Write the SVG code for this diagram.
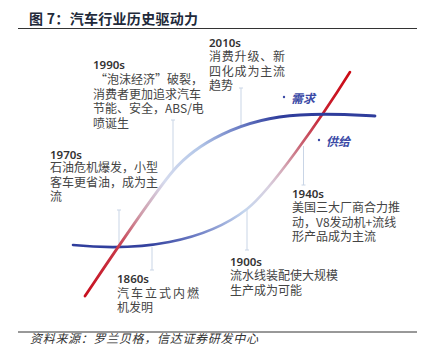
<svg xmlns="http://www.w3.org/2000/svg" width="426" height="358" viewBox="0 0 426 358">
<style>
.t{font-family:"Noto Sans CJK SC","Noto Sans",sans-serif;font-size:12px;fill:#444;}
.y{font-family:"Noto Sans","Noto Sans CJK SC",sans-serif;font-size:11.5px;font-weight:600;fill:#333;}
.conn{stroke:#c9d5e6;stroke-width:1;fill:none;}
.lbl{font-family:"Noto Sans CJK SC",sans-serif;font-size:12px;font-weight:700;font-style:italic;fill:#3b4aa6;}
.rule{stroke:#333;stroke-width:1;}
</style>
<defs>
<linearGradient id="gA" gradientUnits="userSpaceOnUse" x1="85" y1="296" x2="300" y2="115">
<stop offset="0" stop-color="#c80f1e"/>
<stop offset="0.2" stop-color="#c83848"/>
<stop offset="0.335" stop-color="#cf9aa8"/>
<stop offset="0.48" stop-color="#d5dbee"/>
<stop offset="0.65" stop-color="#b4c7e8"/>
<stop offset="0.81" stop-color="#6a7cc4"/>
<stop offset="0.94" stop-color="#2f3d9c"/>
<stop offset="1" stop-color="#2f3d9c"/>
</linearGradient>
<linearGradient id="gB" gradientUnits="userSpaceOnUse" x1="73" y1="245" x2="350" y2="72">
<stop offset="0" stop-color="#2f3d9c"/>
<stop offset="0.2" stop-color="#34429f"/>
<stop offset="0.34" stop-color="#7080c6"/>
<stop offset="0.5" stop-color="#c5d6ee"/>
<stop offset="0.6" stop-color="#d8d0e0"/>
<stop offset="0.67" stop-color="#d4a8b6"/>
<stop offset="0.76" stop-color="#c86070"/>
<stop offset="0.86" stop-color="#c82030"/>
<stop offset="1" stop-color="#cc0a14"/>
</linearGradient>
</defs>
<rect width="426" height="358" fill="#fff"/>
<g id="title">
<text x="29" y="24" style="font-family:'Noto Sans CJK SC',sans-serif;font-size:14px;font-weight:700;fill:#222a3a;letter-spacing:0.3px">图 7：汽车行业历史驱动力</text>
<line class="rule" x1="18" y1="28.5" x2="417" y2="28.5"/>
</g>
<g id="connectors">
<path class="conn" d="M173,120V171M171,120H175"/>
<path class="conn" d="M241,88V127M239,88H243"/>
<path class="conn" d="M119,210V247M117,210H121"/>
<path class="conn" d="M152,247V270M150,270H154"/>
<path class="conn" d="M303.5,146V185M301.5,185H305.5"/>
<path class="conn" d="M247,209V250M245,250H249"/>
</g>
<g id="curves">
<path id="supply" d="M73,245 C140,252 205,242 247,209 C270,191 320,120 350,72" fill="none" stroke="url(#gB)" stroke-width="2.6" stroke-linecap="round"/>
<path id="demand" d="M85,296 C108,262 151,197 173,171 C195,145 240,118 300,115 C330,113 355,115 375,116" fill="none" stroke="url(#gA)" stroke-width="2.8" stroke-linecap="round"/>
</g>
<g id="legend-demand">
<circle cx="284" cy="97" r="1.2" fill="#3b4aa6"/>
<text class="lbl" x="291" y="103">需求</text>
</g>
<g id="legend-supply">
<circle cx="319" cy="140" r="1.2" fill="#3b4aa6"/>
<text class="lbl" x="326" y="146">供给</text>
</g>
<g id="n2010s">
<text class="t"><tspan class="y" x="209" y="47">2010s</tspan><tspan x="209" y="61" style="letter-spacing:0.8px">消费升级、新</tspan><tspan x="209" y="75.5" style="letter-spacing:0.8px">四化成为主流</tspan><tspan x="209" y="90">趋势</tspan></text>
</g>
<g id="n1990s">
<text class="t"><tspan class="y" x="93" y="69">1990s</tspan><tspan x="95 107 119 131 143 155 167 179 191" y="84">“泡沫经济”破裂，</tspan><tspan x="93" y="98.5">消费者更加追求汽车</tspan><tspan x="93" y="113">节能、安全，ABS/电</tspan><tspan x="93" y="127.5">喷诞生</tspan></text>
</g>
<g id="n1970s">
<text class="t"><tspan class="y" x="50" y="159">1970s</tspan><tspan x="50" y="172">石油危机爆发，小型</tspan><tspan x="50" y="186.5">客车更省油，成为主</tspan><tspan x="50" y="201">流</tspan></text>
</g>
<g id="n1940s">
<text class="t"><tspan class="y" x="292" y="198">1940s</tspan><tspan x="292" y="212">美国三大厂商合力推</tspan><tspan x="292" y="226.5">动，V8发动机+流线</tspan><tspan x="292" y="241">形产品成为主流</tspan></text>
</g>
<g id="n1900s">
<text class="t"><tspan class="y" x="230" y="266">1900s</tspan><tspan x="230" y="280">流水线装配使大规模</tspan><tspan x="230" y="294.5">生产成为可能</tspan></text>
</g>
<g id="n1860s">
<text class="t"><tspan class="y" x="117" y="283">1860s</tspan><tspan x="117" y="298" style="letter-spacing:2px">汽车立式内燃</tspan><tspan x="117" y="312">机发明</tspan></text>
</g>
<g id="source">
<line class="rule" x1="18" y1="332" x2="417" y2="332"/>
<text x="30" y="343" style="font-family:'Noto Sans CJK SC',sans-serif;font-size:12px;font-style:italic;fill:#333;letter-spacing:0.7px">资料来源：罗兰贝格，信达证券研发中心</text>
</g>
</svg>
